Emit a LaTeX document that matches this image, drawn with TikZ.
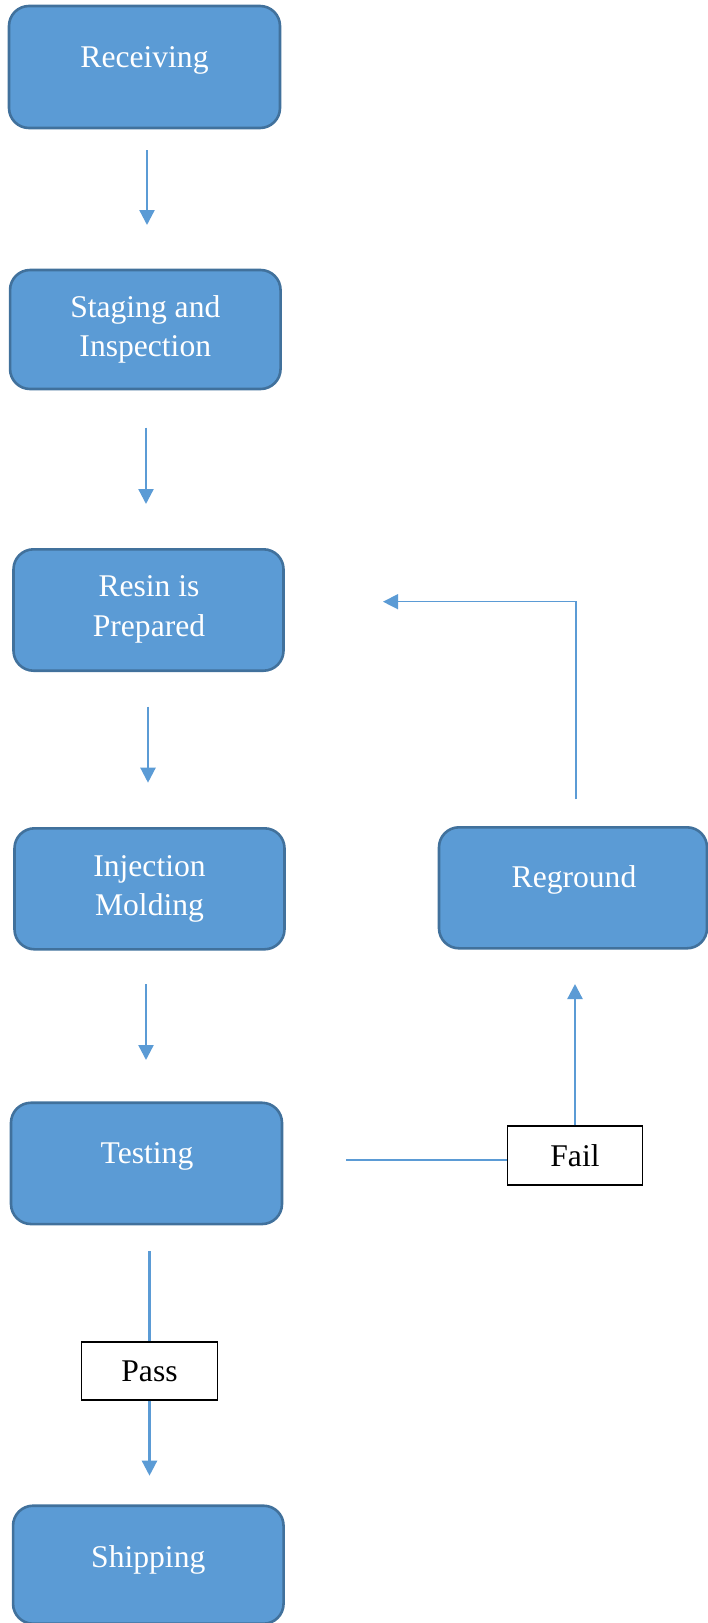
\documentclass[tikz,border=0pt]{standalone}
\usepackage{fontspec}
\setmainfont{Liberation Serif}
\usetikzlibrary{arrows.meta}
\definecolor{boxfill}{HTML}{5B9BD5}
\definecolor{boxline}{HTML}{41719C}
\definecolor{arrowc}{HTML}{5B9BD5}
\tikzset{
  procbox/.style={draw=boxline, fill=boxfill, line width=2.6pt, rounded corners=20pt, inner sep=0pt},
  proctext/.style={text=white, font=\fontsize{31.6}{39.3}\selectfont, align=center, inner sep=0pt},
  labbox/.style={draw=black, line width=1.3pt, fill=white, font=\fontsize{31.6}{39.3}\selectfont, inner sep=0pt},
  conn/.style={draw=arrowc, line width=2.3pt},
  thinconn/.style={draw=arrowc, line width=1.4pt},
  arrowhd/.style={-{Triangle[width=15pt,length=15pt]}},
}
\begin{document}
\begin{tikzpicture}[x=1pt,y=-1pt]
\useasboundingbox (0,0) rectangle (708,1623);
% process boxes
\node[procbox, minimum width=271pt, minimum height=122pt] (rec) at (144.5,67) {};
\node[proctext] (rect) at (144.5,60) {Receiving};
\node[procbox, minimum width=270.5pt, minimum height=119pt] (stag) at (145.3,329.5) {};
\node[proctext] (stagt) at (145.3,329.2) {Staging and\\Inspection};
\node[procbox, minimum width=270pt, minimum height=121.4pt] (resin) at (148.5,610) {};
\node[proctext] (resint) at (149,609.5) {Resin is\\Prepared};
\node[procbox, minimum width=270pt, minimum height=121pt] (inj) at (149.5,888.8) {};
\node[proctext] (injt) at (149.5,888.8) {Injection\\Molding};
\node[procbox, minimum width=268pt, minimum height=121pt] (regr) at (573,887.8) {};
\node[proctext] (regrt) at (574,880.3) {Reground};
\node[procbox, minimum width=271pt, minimum height=121.3pt] (test) at (146.5,1163.4) {};
\node[proctext] (testt) at (147,1156.3) {Testing};
\node[procbox, minimum width=270.5pt, minimum height=118pt] (ship) at (148.3,1564.7) {};
\node[proctext] (shipt) at (148.3,1559.7) {Shipping};
% label boxes
\node[labbox, minimum width=135pt, minimum height=59pt] (fail) at (575,1155.5) {Fail};
\node[labbox, minimum width=135.7pt, minimum height=58pt] (pass) at (149.5,1371) {Pass};
% free ends
\coordinate (a1s) at (147,150);   \coordinate (a1e) at (147,225);
\coordinate (a2s) at (146,427.5); \coordinate (a2e) at (146,504);
\coordinate (a3s) at (148,706.7); \coordinate (a3e) at (148,782.7);
\coordinate (a4s) at (146,984);   \coordinate (a4e) at (146,1060);
\coordinate (fs) at (346,1160.3);
\coordinate (fe) at (575,984);
\coordinate (ps) at (149.5,1251);
\coordinate (pe) at (149.5,1475.7);
\coordinate (rs) at (576,799.3);
\coordinate (re) at (383,601.7);
% connectors
\draw[conn, arrowhd] (a1s) -- (a1e);
\draw[conn, arrowhd] (a2s) -- (a2e);
\draw[conn, arrowhd] (a3s) -- (a3e);
\draw[conn, arrowhd] (a4s) -- (a4e);
\draw[conn] (fs) -- (fs -| fail.west);
\draw[conn, arrowhd] (fail.north) -- (fe);
\draw[conn] (ps) -- (pass.north);
\draw[conn, arrowhd] (pass.south) -- (pe);
\draw[thinconn, arrowhd] (rs) |- (re);
\end{tikzpicture}
\end{document}
